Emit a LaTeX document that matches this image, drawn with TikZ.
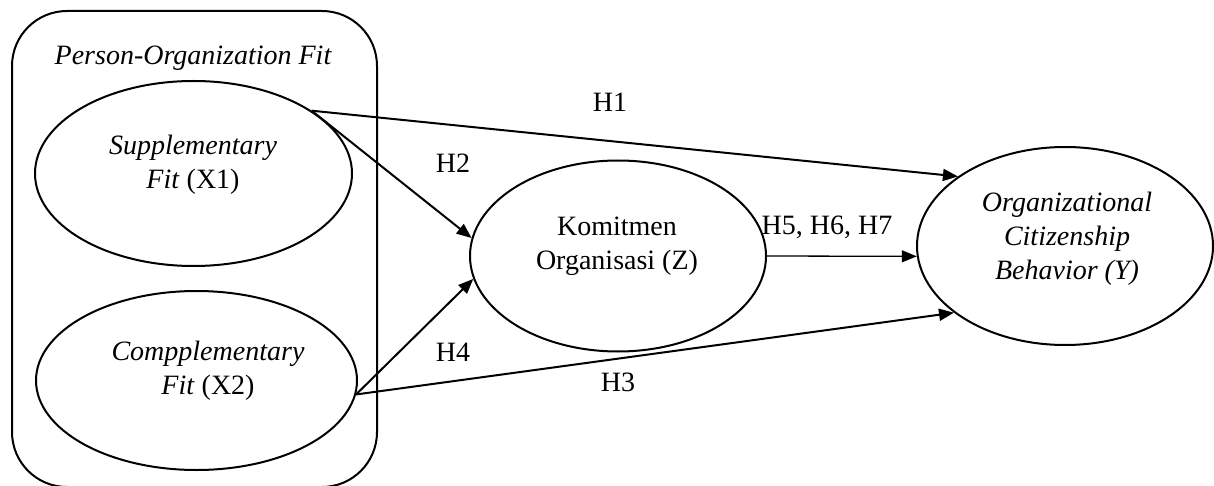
\documentclass[tikz,border=0pt]{standalone}
\usepackage{fontspec}
\setmainfont{Liberation Serif}
\usetikzlibrary{shapes.geometric,arrows.meta}
\begin{document}
\begin{tikzpicture}[x=0.5pt,y=-0.5pt,
  font=\fontsize{14}{17}\selectfont,
  oval/.style={draw,ellipse,line width=1pt,inner sep=0pt},
  txt/.style={align=center,inner sep=0pt},
  arr/.style={line width=1pt,-{Triangle[length=7.5pt,width=6pt]}},
  thinarr/.style={line width=0.65pt,-{Triangle[length=7.5pt,width=6pt]}},
  lab/.style={inner sep=0pt}]
\useasboundingbox (0,0) rectangle (1214,486);
% group box
\node[draw,rectangle,rounded corners=27.5pt,line width=1pt,minimum width=182.5pt,minimum height=238pt,inner sep=0pt] (PO) at (194.5,249) {};
\node[txt] (POt) at (193,58) {\itshape Person-Organization Fit};
% ellipses
\node[oval,minimum width=158.5pt,minimum height=92.5pt] (X1) at (193.5,173.5) {};
\node[oval,minimum width=160.5pt,minimum height=89.5pt] (X2) at (196.5,380.5) {};
\node[oval,minimum width=148pt,minimum height=95.5pt] (Z) at (618,256) {};
\node[oval,minimum width=148pt,minimum height=99pt] (Y) at (1065,246) {};
% texts
\node[txt] (X1t) at (193,165) {\itshape Supplementary\\\textit{Fit} (X1)};
\node[txt] (X2t) at (208,371) {\itshape Compplementary\\\textit{Fit} \upshape(X2)};
\node[txt] (Zt) at (617,246) {Komitmen\\Organisasi (Z)};
\node[txt] (Yt) at (1067,238.5) {\itshape Organizational\\\itshape Citizenship\\\itshape Behavior (Y)};
% connectors
\draw[arr] (X1.28.6) -- (Y.147.6);
\draw[arr] (X1.28.6) -- (Z.173);
\draw[arr] (X2.-5.4) -- (Z.-171.4);
\draw[arr] (X2.-5.4) -- (Y.211.6);
\draw[thinarr] (Z.0) -- (Y.184);
% labels
\node[lab] (H1) at (610,102) {H1};
\node[lab] (H2) at (453,163) {H2};
\node[lab] (H4) at (453,352) {H4};
\node[lab] (H3) at (618,382) {H3};
\node[lab] (H5) at (827,227) {H5, H6, H7};
\end{tikzpicture}
\end{document}
